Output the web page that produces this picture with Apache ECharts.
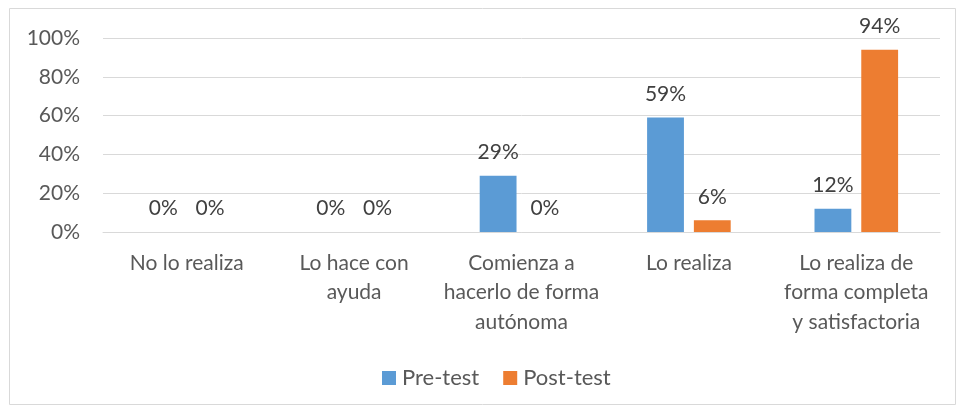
<!DOCTYPE html>
<html><head><meta charset="utf-8">
<script src="https://cdn.jsdelivr.net/npm/echarts@6/dist/echarts.min.js"></script>
<style>html,body{margin:0;padding:0;background:#fff}#c{width:958px;height:408px}</style>
</head><body><div id="c"></div>
<script>
const categories = ['No lo realiza', 'Lo hace con\nayuda', 'Comienza a\nhacerlo de forma\nautónoma', 'Lo realiza', 'Lo realiza de\nforma completa\ny satisfactoria'];
const preTest = [0, 0, 29, 59, 12];
const postTest = [0, 0, 0, 6, 94];
const yTicks = [0, 20, 40, 60, 80, 100];
const seriesNames = ['Pre-test', 'Post-test'];

const font = 'Lato';
const chart = echarts.init(document.getElementById('c'), null, {renderer: 'canvas'});
const labelStyle = {show: true, position: 'top', distance: 13, formatter: p => p.value + '%', color: '#404040', fontFamily: font, fontSize: 21};
chart.setOption({
  animation: false,
  graphic: [{type: 'rect', shape: {x: 9.5, y: 8.5, width: 946, height: 396}, style: {fill: 'none', stroke: '#d9d9d9', lineWidth: 1}}],
  grid: {left: 103, right: 18, top: 38, bottom: 176, containLabel: false},
  legend: {top: 362, left: 377, itemWidth: 14, itemHeight: 14, itemGap: 24, icon: 'rect',
    textStyle: {color: '#595959', fontFamily: font, fontSize: 22, padding: [0, 0, 0, 1]}, data: seriesNames},
  xAxis: {type: 'category', data: categories,
    axisLine: {lineStyle: {color: '#d9d9d9', width: 1}}, axisTick: {show: false},
    axisLabel: {color: '#595959', fontFamily: font, fontSize: 21, lineHeight: 29.5, margin: 16, interval: 0}},
  yAxis: {type: 'value', min: yTicks[0], max: yTicks[yTicks.length - 1], interval: 20,
    axisLine: {show: false}, axisTick: {show: false},
    splitLine: {lineStyle: {color: '#d9d9d9', width: 1}},
    axisLabel: {color: '#595959', fontFamily: font, fontSize: 21, margin: 23, formatter: v => v + '%'}},
  series: [
    {name: seriesNames[0], type: 'bar', data: preTest, barWidth: '22%', barGap: '27%', itemStyle: {color: '#5b9bd5'}, label: labelStyle},
    {name: seriesNames[1], type: 'bar', data: postTest, barWidth: '22%', itemStyle: {color: '#ed7d31'}, label: labelStyle}
  ]
});
</script></body></html>
